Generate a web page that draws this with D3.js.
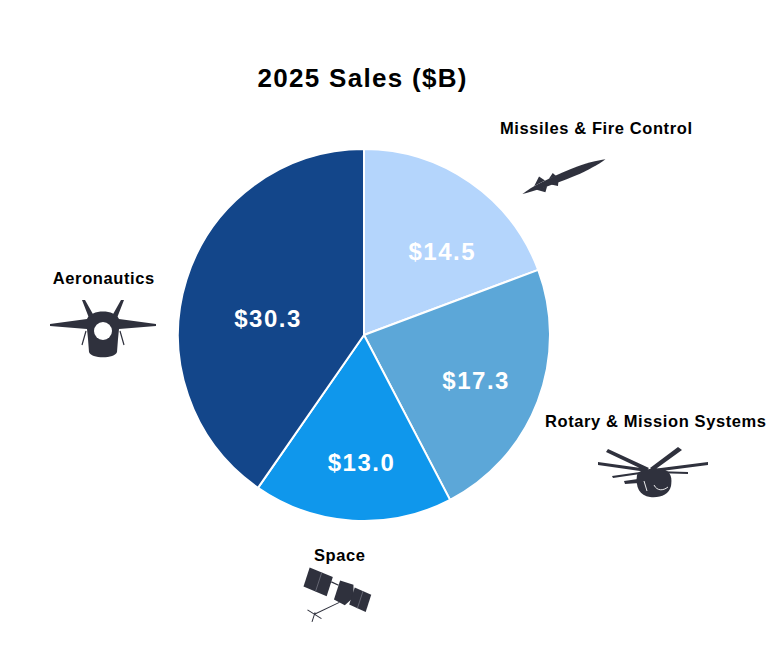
<!DOCTYPE html>
<html><head><meta charset="utf-8">
<script src="https://cdn.jsdelivr.net/npm/d3@7"></script>
<style>body{margin:0;background:#fff}svg{display:block}</style>
</head><body>
<svg id="c" width="783" height="660"></svg>
<script>
const title = "2025 Sales ($B)";
const categories = ["Missiles & Fire Control", "Rotary & Mission Systems", "Space", "Aeronautics"];
const values = [14.5, 17.3, 13.0, 30.3];
const valueLabels = ["$14.5", "$17.3", "$13.0", "$30.3"];
const colors = ["#b4d5fc", "#5ca7d8", "#0f97ec", "#13468a"];

const svg = d3.select("#c");
const cx = 364, cy = 335, R = 186;
const font = "'Liberation Sans', Arial, sans-serif";
const ink = "#2f313d";

svg.append("text").attr("x", 362 + 0.65).attr("y", 87).attr("text-anchor", "middle")
  .attr("font-family", font).attr("font-weight", "bold").attr("font-size", 26)
  .attr("letter-spacing", 1.3).attr("fill", "#000").text(title);

const pie = d3.pie().sort(null).value(d => d);
const arcs = pie(values);
const arc = d3.arc().innerRadius(0).outerRadius(R);
const labelArc = d3.arc().innerRadius(115).outerRadius(115);
const labelNudge = [[12, 11], [4, 4], [4, 13], [13, 18]];

const g = svg.append("g").attr("transform", `translate(${cx},${cy})`);
g.selectAll("path.slice").data(arcs).join("path").attr("class", "slice")
  .attr("d", arc).attr("fill", (d, i) => colors[i])
  .attr("stroke", "#fff").attr("stroke-width", 2).attr("stroke-linejoin", "round");

g.selectAll("text.val").data(arcs).join("text").attr("class", "val")
  .attr("transform", (d, i) => { const c = labelArc.centroid(d); return `translate(${c[0] + labelNudge[i][0] + 0.75},${c[1] + labelNudge[i][1]})`; })
  .attr("text-anchor", "middle").attr("dy", "0.36em")
  .attr("font-family", font).attr("font-weight", "bold").attr("font-size", 24)
  .attr("letter-spacing", 1.5).attr("fill", "#fff").text((d, i) => valueLabels[i]);

// category labels (placed around the pie)
const catPos = [[596, 134], [655.5, 427], [339.5, 561], [103.5, 284]];
svg.selectAll("text.cat").data(categories).join("text").attr("class", "cat")
  .attr("x", (d, i) => catPos[i][0] + 0.3).attr("y", (d, i) => catPos[i][1])
  .attr("text-anchor", "middle").attr("font-family", font).attr("font-weight", "bold")
  .attr("font-size", 16.5).attr("letter-spacing", 0.6).attr("fill", "#000").text(d => d);

// ---- icons ----
// Missile
const m = svg.append("g").attr("transform", "translate(522,193) rotate(-22)").attr("fill", ink);
m.append("path").attr("d", "M0,1 C10,-2 30,-4 55,-4 C70,-4 82,-2 90,0 C82,2 70,4 55,4 C30,4 10,3 0,1 Z");
m.append("path").attr("d", "M14,-2 L22,-9 L26,-3 Z M14,2 L22,8 L26,3 Z M30,-3 L36,-7 L38,-3 Z M30,3 L36,7 L38,3 Z");

// Fighter jet (front view)
const j = svg.append("g").attr("transform", "translate(103,325)").attr("fill", ink);
j.append("path").attr("d", "M-53,-1 L-16,-6 C-12,-16 12,-16 16,-6 L53,-1 L53,1 L16,4 L15,14 L14,27 C12,34 -12,34 -14,27 L-15,14 L-16,4 L-53,1 Z");
j.append("path").attr("d", "M-14,-7 L-21,-25 L-18,-25 L-9,-9 Z M14,-7 L21,-25 L18,-25 L9,-9 Z");
j.append("ellipse").attr("cx", 0).attr("cy", 6).attr("rx", 9).attr("ry", 9).attr("fill", "#fff");
j.append("path").attr("d", "M-17,6 L-21,20 M17,6 L21,20").attr("stroke", ink).attr("stroke-width", 1.2).attr("fill", "none");

// Helicopter
const h = svg.append("g").attr("transform", "translate(650,469)").attr("fill", ink);
h.append("path").attr("d", "M-52,-7 L-2,0 L-3,3 L-52,-4 Z M3,0 L58,-7 L58,-4 L4,3 Z M-42,-20 L-1,-1 L-4,2 L-44,-17 Z M0,-1 L28,-22 L32,-19 L3,2 Z M-38,7 L-3,2 L-3,4 L-37,9 Z M5,2 L38,3 L38,5 L5,4 Z");
h.append("path").attr("d", "M-13,6 C-12,0 4,-1 12,0 C22,2 22,10 21,17 C19,26 10,29 0,28 C-10,27 -15,18 -13,6 Z");
h.append("path").attr("d", "M-12,10 L-26,12 L-25,15 L-11,14 Z");
h.append("path").attr("d", "M4,16 C7,22 13,22 18,18 M-6,12 L-3,22").attr("stroke", "#fff").attr("stroke-width", 0.9).attr("fill", "none");

// Satellite
const s = svg.append("g").attr("transform", "translate(339,597) rotate(18)").attr("fill", ink);
s.append("path").attr("d", "M-37,-19 L-12,-17 L-12,3 L-37,1 Z");
s.append("path").attr("d", "M-12,-12 L-4,-11").attr("stroke", ink).attr("stroke-width", 1.2);
s.append("path").attr("d", "M-4,-16 L10,-16 L14,-4 L8,6 L-4,4 Z");
s.append("path").attr("d", "M12,-14 L30,-12 L30,6 L12,4 Z");
s.append("path").attr("d", "M-24,-18 L-24,2 M21,-13 L21,5").attr("stroke", "#6a6c78").attr("stroke-width", 0.8);
s.append("path").attr("d", "M2,5 L-18,24 M-26,22 L-10,26 M-18,22 L-18,32").attr("stroke", ink).attr("stroke-width", 1).attr("fill", "none");
</script>
</body></html>
